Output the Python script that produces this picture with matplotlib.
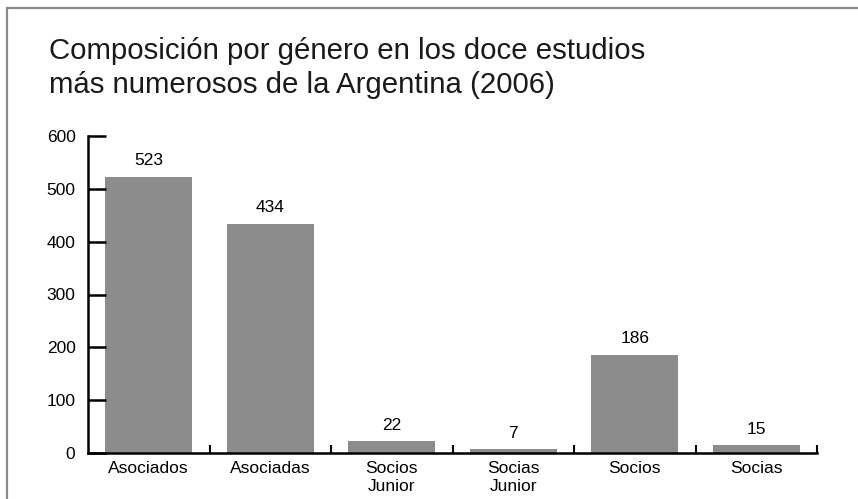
import matplotlib.pyplot as plt
from matplotlib.patches import Rectangle

plt.rcParams['font.family'] = ['Liberation Sans', 'DejaVu Sans']

# Datos
categorias = ['Asociados', 'Asociadas', 'Socios\nJunior', 'Socias\nJunior', 'Socios', 'Socias']
valores = [523, 434, 22, 7, 186, 15]
y_ticks = [0, 100, 200, 300, 400, 500, 600]
titulo = ['Composición por género en los doce estudios',
          'más numerosos de la Argentina (2006)']

W, H = 858, 499
fig = plt.figure(figsize=(W / 100, H / 100), dpi=100)

# marco gris alrededor del grafico
fig.patches.append(Rectangle((7 / W, -0.1), 1.2, (H - 8) / H + 0.1,
                             transform=fig.transFigure, fill=False,
                             edgecolor='#8a8a8a', linewidth=1.6))

# titulo en dos lineas
for linea, yb in zip(titulo, [59, 93]):
    fig.text(49 / W, 1 - yb / H, linea, fontsize=21.2, va='baseline', ha='left',
             color='#1a1a1a')

ax = fig.add_axes([88 / W, 46 / H, (817 - 88) / W, 317 / H])
x = range(len(categorias))
bars = ax.bar(x, valores, width=0.72, color='#8c8c8c')
for b, v in zip(bars, valores):
    ax.annotate(str(v), (b.get_x() + b.get_width() / 2, v), xytext=(0, 6),
                textcoords='offset points', ha='center', va='bottom', fontsize=12.5)

ax.set_xlim(-0.5, len(categorias) - 0.5)
ax.set_ylim(0, 600)
ax.set_yticks(y_ticks)
ax.set_xticks(list(x))
ax.set_xticklabels(categorias, fontsize=12.5)
ax.set_xticks([i + 0.5 for i in x], minor=True)
ax.tick_params(axis='x', which='major', length=0, pad=6)
ax.tick_params(axis='x', which='minor', direction='in', length=6, width=1.5)
ax.tick_params(axis='y', direction='in', length=13, width=1.8, labelsize=12.5, pad=9)

for s in ['top', 'right']:
    ax.spines[s].set_visible(False)
for s in ['left', 'bottom']:
    ax.spines[s].set_linewidth(1.8)

fig.savefig('out.png', dpi=100)
